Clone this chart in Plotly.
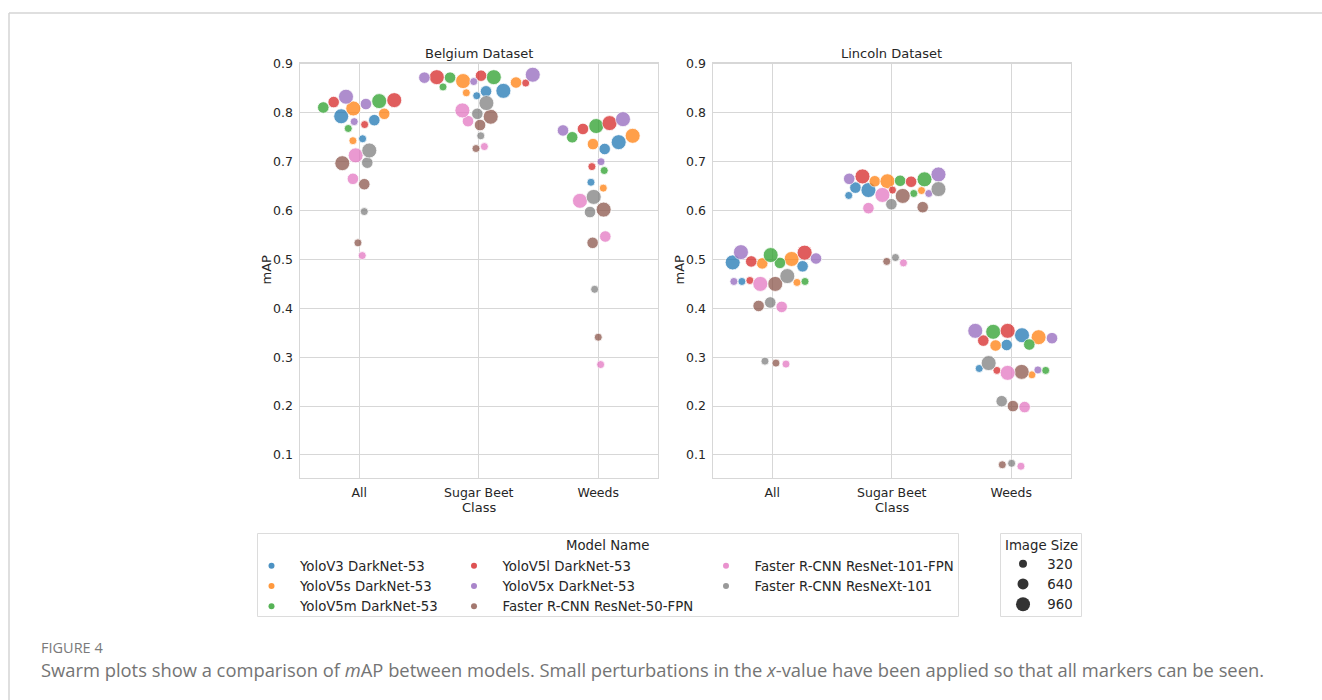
import plotly.graph_objects as go

# ---------------------------------------------------------------- data
models = [
    "YoloV3 DarkNet-53",
    "YoloV5s DarkNet-53",
    "YoloV5m DarkNet-53",
    "YoloV5l DarkNet-53",
    "YoloV5x DarkNet-53",
    "Faster R-CNN ResNet-50-FPN",
    "Faster R-CNN ResNet-101-FPN",
    "Faster R-CNN ResNeXt-101",
]
colors = ["#1f77b4", "#ff7f0e", "#2ca02c", "#d62728",
          "#9467bd", "#8c564b", "#e377c2", "#7f7f7f"]
classes = ["All", "Sugar Beet", "Weeds"]
image_sizes = [320, 640, 960]
datasets = ["Belgium Dataset", "Lincoln Dataset"]

# mAP per model (rows, order of `models`) and image size (columns 320/640/960)
belgium_all = [
    [0.747, 0.785, 0.793], [0.743, 0.798, 0.809], [0.768, 0.811, 0.824],
    [0.776, 0.822, 0.826], [0.782, 0.818, 0.833], [0.534, 0.654, 0.697],
    [0.508, 0.665, 0.713], [0.598, 0.698, 0.723],
]
belgium_sugar_beet = [
    [0.835, 0.844, 0.845], [0.841, 0.862, 0.865], [0.853, 0.872, 0.873],
    [0.861, 0.876, 0.873], [0.864, 0.872, 0.878], [0.727, 0.775, 0.792],
    [0.731, 0.783, 0.805], [0.753, 0.798, 0.820],
]
belgium_weeds = [
    [0.658, 0.726, 0.740], [0.646, 0.736, 0.753], [0.682, 0.750, 0.773],
    [0.690, 0.767, 0.779], [0.700, 0.764, 0.787], [0.341, 0.534, 0.602],
    [0.285, 0.547, 0.620], [0.439, 0.597, 0.628],
]
lincoln_all = [
    [0.455, 0.486, 0.494], [0.453, 0.492, 0.501], [0.455, 0.493, 0.509],
    [0.457, 0.496, 0.514], [0.455, 0.502, 0.515], [0.288, 0.405, 0.450],
    [0.286, 0.403, 0.450], [0.292, 0.412, 0.466],
]
lincoln_sugar_beet = [
    [0.631, 0.647, 0.642], [0.641, 0.660, 0.660], [0.635, 0.661, 0.664],
    [0.642, 0.659, 0.670], [0.635, 0.665, 0.674], [0.496, 0.607, 0.630],
    [0.493, 0.605, 0.632], [0.504, 0.613, 0.644],
]
lincoln_weeds = [
    [0.277, 0.325, 0.345], [0.264, 0.324, 0.341], [0.273, 0.326, 0.352],
    [0.273, 0.334, 0.354], [0.274, 0.339, 0.354], [0.080, 0.200, 0.270],
    [0.077, 0.198, 0.268], [0.083, 0.210, 0.288],
]

# x-value perturbations (category units) so overlapping markers stay visible
belgium_all_jitter = [
    [0.028, 0.126, -0.151], [-0.053, 0.209, -0.050], [-0.092, -0.301, 0.167],
    [0.045, -0.214, 0.293], [-0.042, 0.056, -0.111], [-0.011, 0.042, -0.142],
    [0.025, -0.053, -0.030], [0.042, 0.067, 0.084],
]
belgium_sugar_beet_jitter = [
    [-0.017, 0.061, 0.206], [-0.104, 0.312, -0.131], [-0.299, -0.240, 0.126],
    [0.393, 0.019, -0.351], [-0.042, -0.455, 0.452], [-0.023, 0.011, 0.100],
    [0.047, -0.090, -0.137], [0.017, -0.012, 0.064],
]
belgium_weeds_jitter = [
    [-0.061, 0.054, 0.171], [0.042, -0.044, 0.288], [0.050, -0.218, -0.017],
    [-0.053, -0.128, 0.095], [0.023, -0.295, 0.207], [0.000, -0.047, 0.045],
    [0.020, 0.059, -0.153], [-0.030, -0.069, -0.038],
]
lincoln_all_jitter = [
    [-0.254, 0.254, -0.331], [0.207, -0.084, 0.162], [0.274, 0.064, -0.013],
    [-0.187, -0.176, 0.271], [-0.321, 0.366, -0.262], [0.031, -0.114, 0.025],
    [0.115, 0.079, -0.100], [-0.061, -0.017, 0.126],
]
lincoln_sugar_beet_jitter = [
    [-0.360, -0.304, -0.195], [0.249, -0.142, -0.036], [0.184, 0.070, 0.274],
    [0.006, 0.162, -0.245], [0.310, -0.356, 0.391], [-0.042, 0.259, 0.092],
    [0.098, -0.195, -0.078], [0.031, -0.003, 0.391],
]
lincoln_weeds_jitter = [
    [-0.268, -0.038, 0.090], [0.173, -0.131, 0.229], [0.288, 0.151, -0.151],
    [-0.120, -0.234, -0.030], [0.223, 0.341, -0.301], [-0.075, 0.014, 0.087],
    [0.081, 0.112, -0.030], [0.003, -0.080, -0.189],
]

values = {
    "Belgium Dataset": [belgium_all, belgium_sugar_beet, belgium_weeds],
    "Lincoln Dataset": [lincoln_all, lincoln_sugar_beet, lincoln_weeds],
}
jitters = {
    "Belgium Dataset": [belgium_all_jitter, belgium_sugar_beet_jitter, belgium_weeds_jitter],
    "Lincoln Dataset": [lincoln_all_jitter, lincoln_sugar_beet_jitter, lincoln_weeds_jitter],
}

# ---------------------------------------------------------------- styling
W, H = 1322, 700
FONT = "DejaVu Sans"
TEXT = "#262626"
GRID = "#d7d7d7"
marker_px = {320: 8, 640: 11.5, 960: 15}
legend_px = {320: 8, 640: 11, 960: 14}
NBSP = "\u00a0"


def px_x(p):
    return p / W


def px_y(p):
    return 1 - p / H


panel_x = [(299.5, 658.0), (712.5, 1071.0)]
panel_y = (62.5, 478.0)
y_range = [0.0529, 0.903]

fig = go.Figure()

for d_i, ds in enumerate(datasets):
    xa = "x" if d_i == 0 else "x2"
    ya = "y" if d_i == 0 else "y2"
    for m_i, (model, col) in enumerate(zip(models, colors)):
        xs, ys, ss, texts = [], [], [], []
        for c_i, cls in enumerate(classes):
            for s_i, size in enumerate(image_sizes):
                xs.append(c_i + jitters[ds][c_i][m_i][s_i])
                ys.append(values[ds][c_i][m_i][s_i])
                ss.append(marker_px[size])
                texts.append(f"{model}<br>{cls}, {size}px")
        fig.add_trace(go.Scatter(
            x=xs, y=ys, mode="markers", xaxis=xa, yaxis=ya,
            marker=dict(size=ss, color=col, opacity=0.75,
                        line=dict(color="white", width=0.8)),
            text=texts, hovertemplate="%{text}<br>mAP=%{y:.3f}<extra></extra>",
            showlegend=False,
        ))

# legend entries: three columns of model names, one column of image sizes
legend_cols = [models[0:3], models[3:6], models[6:8]]
legend_names = ["legend", "legend2", "legend3"]
for lg, names in zip(legend_names, legend_cols):
    for name in names:
        fig.add_trace(go.Scatter(
            x=[None], y=[None], mode="markers", name=NBSP * 2 + name, legend=lg,
            marker=dict(size=6, color=colors[models.index(name)], opacity=0.8),
        ))
for size in image_sizes:
    fig.add_trace(go.Scatter(
        x=[None], y=[None], mode="markers", name=NBSP + str(size), legend="legend4",
        marker=dict(size=legend_px[size], color="#333333"),
    ))

axis_common = dict(
    showgrid=True, gridcolor=GRID, gridwidth=1, zeroline=False,
    showline=True, linecolor=GRID, linewidth=1, mirror=True,
    ticks="outside", ticklen=3, tickcolor="rgba(0,0,0,0)",
    tickfont=dict(family=FONT, size=12.5, color=TEXT),
    fixedrange=True, automargin=False,
)
layout = dict(
    width=W, height=H, margin=dict(l=0, r=0, t=0, b=0, autoexpand=False),
    paper_bgcolor="white", plot_bgcolor="white",
    font=dict(family=FONT, color=TEXT),
    hovermode="closest",
)
for d_i in range(2):
    sfx = "" if d_i == 0 else "2"
    x0, x1 = panel_x[d_i]
    layout["xaxis" + sfx] = dict(
        axis_common, domain=[px_x(x0), px_x(x1)], range=[-0.5, 2.5],
        tickmode="array", tickvals=[0, 1, 2], ticktext=classes,
        anchor="y" + sfx,
    )
    layout["yaxis" + sfx] = dict(
        axis_common, domain=[px_y(panel_y[1]), px_y(panel_y[0])], range=y_range,
        tickmode="array", tickvals=[0.1, 0.2, 0.3, 0.4, 0.5, 0.6, 0.7, 0.8, 0.9],
        ticktext=["0.1", "0.2", "0.3", "0.4", "0.5", "0.6", "0.7", "0.8", "0.9"],
        anchor="x" + sfx,
    )

leg_font = dict(family=FONT, size=13.3, color=TEXT)
leg_common = dict(
    orientation="v", bgcolor="rgba(0,0,0,0)", borderwidth=0, font=leg_font,
    xanchor="left", yanchor="top", itemclick=False, itemdoubleclick=False,
    tracegroupgap=0, itemwidth=30,
)
layout["legend"] = dict(leg_common, x=px_x(251.5), y=px_y(550.5))
layout["legend2"] = dict(leg_common, x=px_x(454), y=px_y(550.5))
layout["legend3"] = dict(leg_common, x=px_x(706), y=px_y(550.5))
layout["legend4"] = dict(leg_common, x=px_x(1003), y=px_y(548.5))

fig.update_layout(**layout)


def note(text, x, y, size, xanchor="center", angle=0, family=FONT, color=TEXT):
    return dict(text=text, x=px_x(x), y=px_y(y), xref="paper", yref="paper",
                xanchor=xanchor, yanchor="middle", showarrow=False, textangle=angle,
                font=dict(family=family, size=size, color=color))


annotations = []
for d_i, ds in enumerate(datasets):
    x0, x1 = panel_x[d_i]
    annotations.append(note(ds, (x0 + x1) / 2, 53, 13))
    annotations.append(note("mAP", x0 - 34, 270, 13, angle=-90))
    annotations.append(note("Class", (x0 + x1) / 2, 507, 13))
annotations.append(note("Model Name", 607, 545, 13.3))
annotations.append(note("Image Size", 1041, 545, 13.3))
annotations.append(note("FIGURE 4", 38.5, 647, 14.5, xanchor="left",
                        family="Open Sans", color="#7a7a7a"))
annotations.append(note(
    "Swarm plots show a comparison of <i>m</i>AP between models. Small perturbations "
    "in the <i>x</i>-value have been applied so that all markers can be seen.",
    38.5, 669, 18.35, xanchor="left", family="Open Sans", color="#747474"))
fig.update_layout(annotations=annotations)

# page frame and legend boxes
frame = "#d4d4d4"
shapes = [
    dict(type="line", xref="paper", yref="paper", x0=px_x(9), x1=1, y0=px_y(13), y1=px_y(13),
         line=dict(color=frame, width=1.5)),
    dict(type="line", xref="paper", yref="paper", x0=px_x(9), x1=px_x(9), y0=px_y(13), y1=0,
         line=dict(color=frame, width=1.5)),
    dict(type="rect", xref="paper", yref="paper", x0=px_x(257.5), x1=px_x(958.5),
         y0=px_y(616.5), y1=px_y(533.5), line=dict(color="#dcdcdc", width=1)),
    dict(type="rect", xref="paper", yref="paper", x0=px_x(1000.5), x1=px_x(1081.5),
         y0=px_y(616.5), y1=px_y(533.5), line=dict(color="#dcdcdc", width=1)),
]
fig.update_layout(shapes=shapes)

fig.write_html("out.html")
